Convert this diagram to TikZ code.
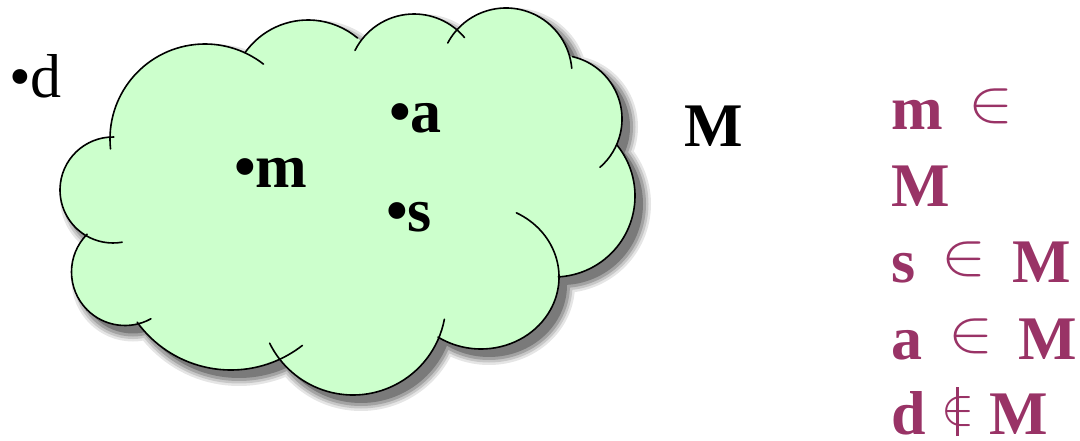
\RequirePackage{fix-cm}
\documentclass[tikz,border=0pt]{standalone}
\usepackage{fontspec}
\setmainfont{Liberation Serif}
\usepackage{graphicx}
\usepackage{xcolor}

\definecolor{cloudgreen}{RGB}{204,255,204}
\definecolor{setpurple}{RGB}{153,51,102}
% centre x / centre y / radius / start angle / end angle of each bump
\newcommand\bumps{205/139/95/174/308, 308/97/77/215/310, 414/80/66/206.6/320,
  506/74/66/208/355, 558/119/64/283/409, 554/196/81/-39/87, 353/302/93/153.7/10.7,
  231/254/116/144/52, 125/272/53.5/225/61, 113/190/53/271/80}
\newcommand\inn{\ \,\raisebox{8.4bp}{\resizebox*{45bp}{35bp}{$\in$}}\,\ }
\newcommand\nin{\ \raisebox{10bp}{\ooalign{\resizebox*{33bp}{30bp}{$\in$}\cr\hidewidth\rule[-12bp]{3bp}{49bp}\hidewidth\cr}}\ }

\begin{document}
\begin{tikzpicture}[x=1bp, y=-1bp]
\tikzset{
  bigtext/.style={font=\fontsize{62bp}{70bp}\selectfont, inner sep=0pt, anchor=base west},
  elem/.style={bigtext, font=\fontsize{62bp}{70bp}\selectfont\bfseries},
  claim/.style={elem, text=setpurple},
  outline/.style={line width=1.6bp, line cap=round}
}
\useasboundingbox (0,0) rectangle (1080,441);

\begin{scope}[shift={(8,8)}]
  \foreach \w/\c in {16/10, 11/22, 6/36}
    \draw[black!\c, line width=\w bp]
      \foreach \cx/\cy/\r/\a/\b in \bumps {(\cx,\cy) circle[radius=\r]}
      (481,277) ellipse[x radius=78, y radius=72];
  \fill[black!52] \foreach \cx/\cy/\r/\a/\b in \bumps {(\cx,\cy) circle[radius=\r]}
    (481,277) ellipse[x radius=78, y radius=72];
  \fill[black!52] (205,139) -- (308,97) -- (414,80) -- (506,74) -- (558,119) -- (554,196)
    -- (481,277) -- (353,302) -- (231,254) -- (125,272) -- (113,190) -- cycle;
\end{scope}

\fill[cloudgreen] \foreach \cx/\cy/\r/\a/\b in \bumps {(\cx,\cy) circle[radius=\r]}
  (481,277) ellipse[x radius=78, y radius=72];
\fill[cloudgreen] (205,139) -- (308,97) -- (414,80) -- (506,74) -- (558,119) -- (554,196)
  -- (481,277) -- (353,302) -- (231,254) -- (125,272) -- (113,190) -- cycle;
\foreach \cx/\cy/\r/\a/\b in \bumps
  \draw[outline] (\cx,\cy) ++(\a:\r) arc[start angle=\a, end angle=\b, radius=\r];
\draw[outline] (481,277) ++(-63:78 and 72) arc[start angle=-63, end angle=123.5, x radius=78, y radius=72];

\node[bigtext] (d) at (9,98) {•d};
\node[elem] (a) at (389,133) {•a};
\node[elem] (m) at (234,188) {•m};
\node[elem] (s) at (386,232) {•s};
\node[elem] (setM) at (684,147) {M};

\foreach \y/\txt [count=\i] in {130/{m\inn}, 207/{M}, 283/{s\inn M}, 360/{a\inn M}, 434/{d\nin M}}
  \node[claim] (claim\i) at (891,\y) {\txt};
\end{tikzpicture}
\end{document}
